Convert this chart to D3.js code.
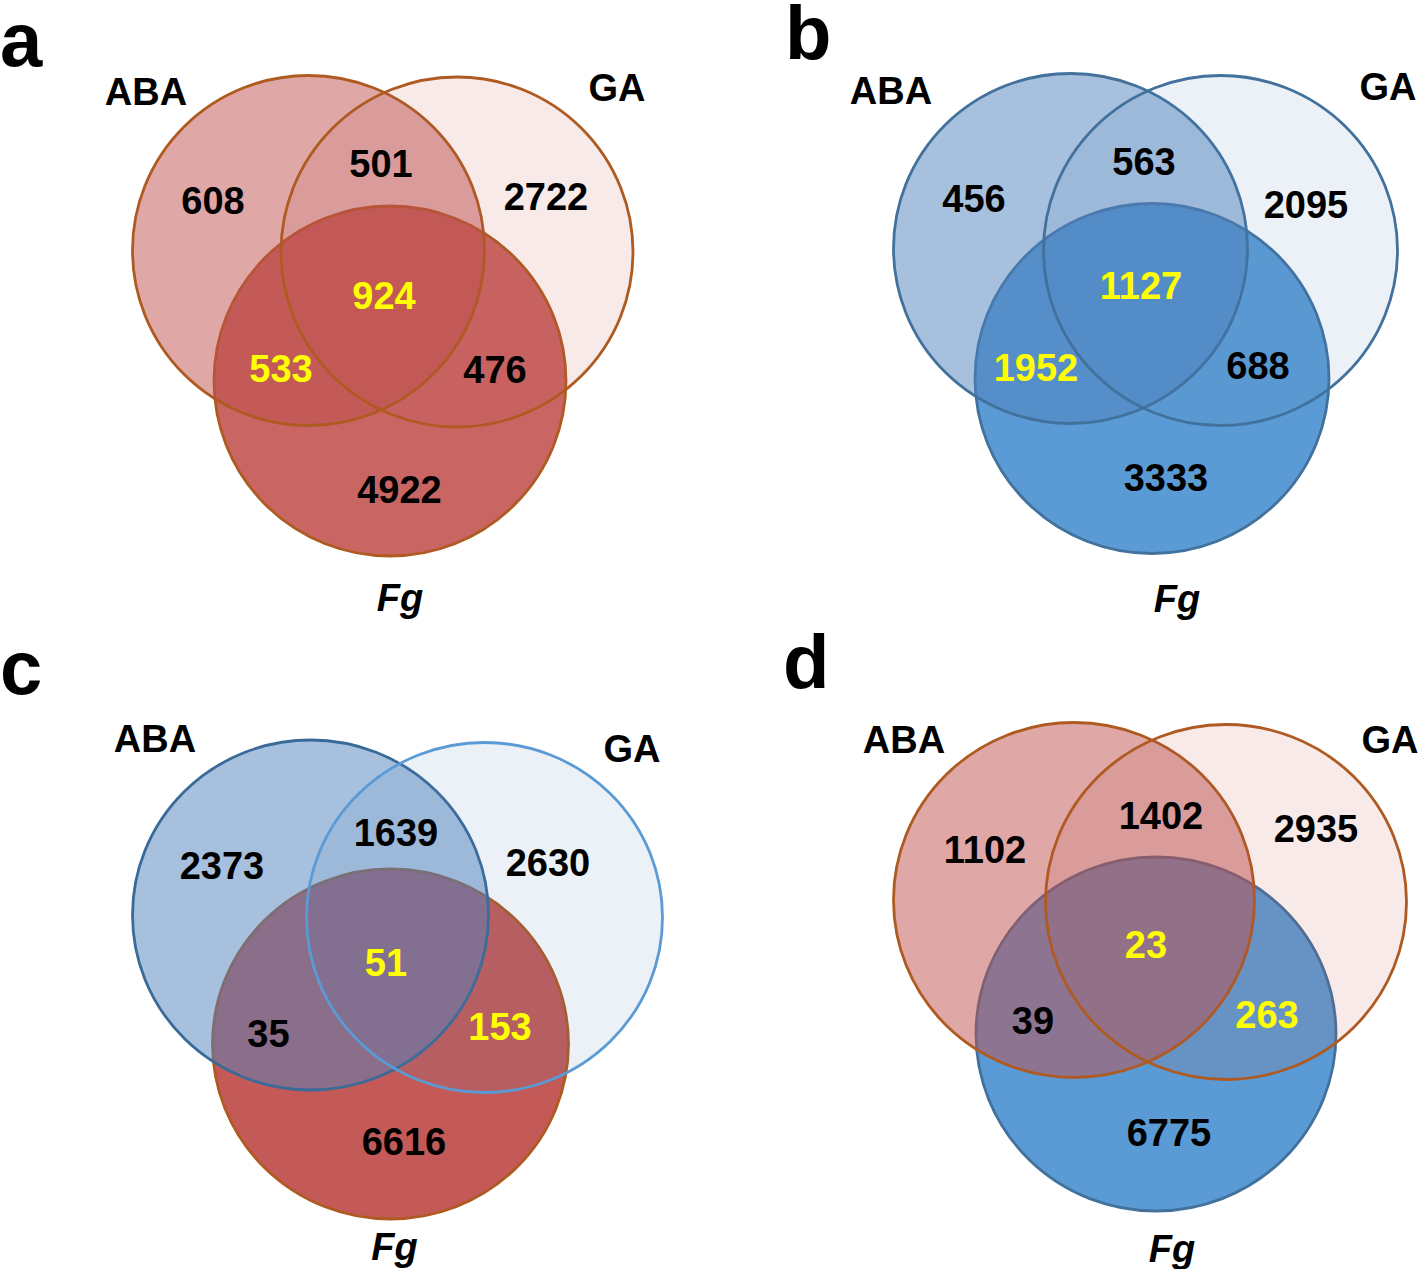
<!DOCTYPE html>
<html>
<head>
<meta charset="utf-8">
<script src="https://cdn.jsdelivr.net/npm/d3@7/dist/d3.min.js"></script>
<style>
  html, body { margin: 0; padding: 0; background: #ffffff; }
  svg { display: block; }
  text { font-family: "Liberation Sans", Arial, Helvetica, sans-serif; font-weight: bold; }
</style>
</head>
<body>
<svg id="chart" width="1418" height="1269"></svg>
<script>
// ---------------- DATA ----------------
const panelLetters = ["a", "b", "c", "d"];
const setNames = ["ABA", "GA", "Fg"];
const regionKeys = ["ABA", "ABA∩GA", "GA", "ABA∩GA∩Fg", "ABA∩Fg", "GA∩Fg", "Fg"];
const countsA = [608, 501, 2722, 924, 533, 476, 4922];
const countsB = [456, 563, 2095, 1127, 1952, 688, 3333];
const countsC = [2373, 1639, 2630, 51, 35, 153, 6616];
const countsD = [1102, 1402, 2935, 23, 39, 263, 6775];
const highlightA = ["ABA∩GA∩Fg", "ABA∩Fg"];
const highlightB = ["ABA∩GA∩Fg", "ABA∩Fg"];
const highlightC = ["ABA∩GA∩Fg", "GA∩Fg"];
const highlightD = ["ABA∩GA∩Fg", "GA∩Fg"];

// ---------------- LAYOUT / STYLE (separate from data) ----------------
const panelOrigin = [[0, 0], [709, 0], [0, 635], [709, 635]];
// circle geometry per panel, panel-local coords: [cx, cy, rx, ry] for ABA, GA, Fg
const circleGeom = [
  [[308.5, 250.5, 176, 175], [457, 252, 176, 175], [390, 381, 176, 175]],
  [[361.5, 248.5, 177, 175], [511.5, 250.5, 177, 175], [443, 378.5, 177, 175]],
  [[310.5, 280, 178, 175], [484.5, 282.5, 178, 175], [390.5, 409, 178, 175]],
  [[365, 265, 180.5, 177.5], [517, 267, 180.5, 177.5], [447, 399, 180, 177]]
];
// label anchors per panel (panel-local), [x, baselineY]
const letterPos = [[0, 66], [76, 59], [0, 59], [74, 53]];
const setLabelPos = [
  [[146, 105], [617, 101], [400, 611]],
  [[182, 104], [679, 100], [468, 612]],
  [[155, 117], [632, 127], [394.5, 625]],
  [[195, 118], [681, 118], [463, 627]]
];
const regionPos = [
  [[213, 214], [381, 177], [546, 210], [384, 309], [281, 382], [495, 382.5], [399.5, 502.5]],
  [[265, 212], [435, 175], [597, 218], [432, 298.5], [327, 381], [549, 379], [457, 490.5]],
  [[222, 244], [396, 211], [548, 241], [386, 341], [268.5, 412], [500, 405], [404, 520]],
  [[276, 228], [452, 193.5], [607, 207], [437, 322.5], [324, 399], [558, 393], [460, 511]]
];
const fills = [
  [{c: "#C0504D", o: 0.5}, {c: "#C0504D", o: 0.12}, {c: "#C96563", o: 1}],
  [{c: "#4F81BD", o: 0.5}, {c: "#4F81BD", o: 0.11}, {c: "#5B9BD5", o: 1}],
  [{c: "#4F81BD", o: 0.5}, {c: "#4F81BD", o: 0.11}, {c: "#C45A57", o: 1}],
  [{c: "#C0504D", o: 0.5}, {c: "#C0504D", o: 0.12}, {c: "#5B9BD5", o: 1}]
];
const strokes = [
  ["#AE5A21", "#AE5A21", "#AE5A21"],
  ["#41719C", "#41719C", "#41719C"],
  ["#3A6A98", "#5B9BD5", "#AE5A21"],
  ["#AE5A21", "#AE5A21", "#41719C"]
];

const allCounts = [countsA, countsB, countsC, countsD];
const allHighlights = [highlightA, highlightB, highlightC, highlightD];

// ---------------- DRAW ----------------
const svg = d3.select("#chart");
const drawOrder = [2, 0, 1]; // Fg underneath, ABA then GA on top

panelLetters.forEach((letter, p) => {
  const x = d3.scaleLinear().domain([0, 709]).range([panelOrigin[p][0], panelOrigin[p][0] + 709]);
  const y = d3.scaleLinear().domain([0, 635]).range([panelOrigin[p][1], panelOrigin[p][1] + 635]);
  const g = svg.append("g").attr("class", "panel panel-" + letter);

  const sets = drawOrder.map(i => ({
    name: setNames[i],
    geom: circleGeom[p][i],
    fill: fills[p][i],
    stroke: strokes[p][i]
  }));

  g.selectAll("ellipse.set")
    .data(sets)
    .join("ellipse")
    .attr("class", "set")
    .attr("cx", d => x(d.geom[0]))
    .attr("cy", d => y(d.geom[1]))
    .attr("rx", d => x(d.geom[2]) - x(0))
    .attr("ry", d => y(d.geom[3]) - y(0))
    .attr("fill", d => d.fill.c)
    .attr("fill-opacity", d => d.fill.o)
    .attr("stroke", d => d.stroke)
    .attr("stroke-width", 2.8);

  // region counts
  const regions = regionKeys.map((k, i) => ({
    key: k,
    value: allCounts[p][i],
    pos: regionPos[p][i],
    hi: allHighlights[p].includes(k)
  }));
  g.selectAll("text.count")
    .data(regions)
    .join("text")
    .attr("class", "count")
    .attr("x", d => x(d.pos[0]))
    .attr("y", d => y(d.pos[1]))
    .attr("text-anchor", "middle")
    .attr("font-size", 38)
    .attr("fill", d => d.hi ? "#FFFF00" : "#000000")
    .text(d => d.value);

  // set labels
  g.selectAll("text.setlabel")
    .data(setNames.map((n, i) => ({name: n, pos: setLabelPos[p][i]})))
    .join("text")
    .attr("class", "setlabel")
    .attr("x", d => x(d.pos[0]))
    .attr("y", d => y(d.pos[1]))
    .attr("text-anchor", "middle")
    .attr("font-size", 38)
    .attr("font-style", d => d.name === "Fg" ? "italic" : "normal")
    .attr("fill", "#000")
    .text(d => d.name);

  // panel letter
  g.append("text")
    .attr("class", "letter")
    .attr("x", x(letterPos[p][0]))
    .attr("y", y(letterPos[p][1]))
    .attr("font-size", 76)
    .attr("fill", "#000")
    .text(letter);
});
</script>
</body>
</html>
